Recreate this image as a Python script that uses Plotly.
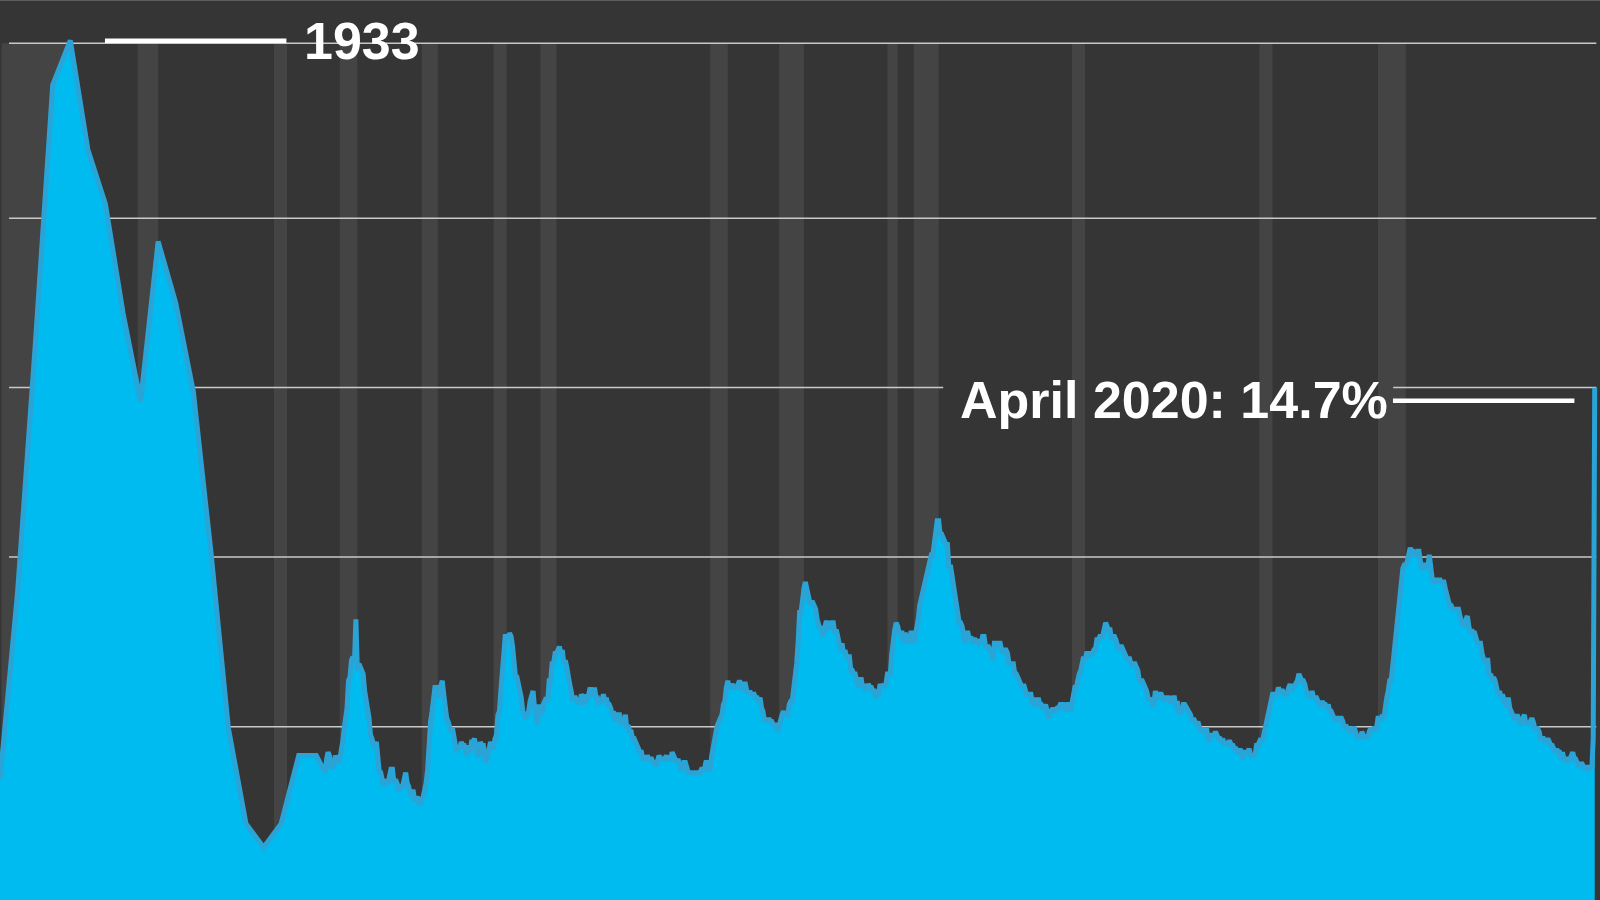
#!/usr/bin/env python3

import pandas as pd
import plotly.graph_objects as go

# annual rates before monthly data starts (plotted at mid-year)
annual_years = list(range(1929, 1948))
annual_rate = [3.2, 8.7, 15.9, 23.6, 24.9, 21.7, 20.1, 16.9, 14.3, 19.0,
               17.2, 14.6, 9.9, 4.7, 1.9, 1.2, 1.9, 3.9, 3.9]

# monthly rates, Jan 1948 onward
monthly_1940s = [
    3.4, 3.8, 4.0, 3.9, 3.5, 3.6, 3.6, 3.9, 3.8, 3.7, 3.8, 4.0,
    4.3, 4.7, 5.0, 5.3, 6.1, 6.2, 6.7, 6.8, 6.6, 7.9, 6.4, 6.6,
]
monthly_1950s = [
    6.5, 6.4, 6.3, 5.8, 5.5, 5.4, 5.0, 4.5, 4.4, 4.2, 4.2, 4.3,
    3.7, 3.4, 3.4, 3.1, 3.0, 3.2, 3.1, 3.1, 3.3, 3.5, 3.5, 3.1,
    3.2, 3.1, 2.9, 2.9, 3.0, 3.0, 3.2, 3.4, 3.1, 3.0, 2.8, 2.7,
    2.9, 2.6, 2.6, 2.7, 2.5, 2.5, 2.6, 2.7, 2.9, 3.1, 3.5, 4.5,
    4.9, 5.2, 5.7, 5.9, 5.9, 5.6, 5.8, 6.0, 6.1, 5.7, 5.3, 5.0,
    4.9, 4.7, 4.6, 4.7, 4.3, 4.2, 4.0, 4.2, 4.1, 4.3, 4.2, 4.2,
    4.0, 3.9, 4.2, 4.0, 4.3, 4.3, 4.4, 4.1, 3.9, 3.9, 4.3, 4.2,
    4.2, 3.9, 3.7, 3.9, 4.1, 4.3, 4.2, 4.1, 4.4, 4.5, 5.1, 5.2,
    5.8, 6.4, 6.7, 7.4, 7.4, 7.3, 7.5, 7.4, 7.1, 6.7, 6.2, 6.2,
    6.0, 5.9, 5.6, 5.2, 5.1, 5.0, 5.1, 5.2, 5.5, 5.7, 5.8, 5.3,
]
monthly_1960s = [
    5.2, 4.8, 5.4, 5.2, 5.1, 5.4, 5.5, 5.6, 5.5, 6.1, 6.1, 6.6,
    6.6, 6.9, 6.9, 7.0, 7.1, 6.9, 7.0, 6.6, 6.7, 6.5, 6.1, 6.0,
    5.8, 5.5, 5.6, 5.6, 5.5, 5.5, 5.4, 5.7, 5.6, 5.4, 5.7, 5.5,
    5.7, 5.9, 5.7, 5.7, 5.9, 5.6, 5.6, 5.4, 5.5, 5.5, 5.7, 5.5,
    5.6, 5.4, 5.4, 5.3, 5.1, 5.2, 4.9, 5.0, 5.1, 5.1, 4.8, 5.0,
    4.9, 5.1, 4.7, 4.8, 4.6, 4.6, 4.4, 4.4, 4.3, 4.2, 4.1, 4.0,
    4.0, 3.8, 3.8, 3.8, 3.9, 3.8, 3.8, 3.8, 3.7, 3.7, 3.6, 3.8,
    3.9, 3.8, 3.8, 3.8, 3.8, 3.9, 3.8, 3.8, 3.8, 4.0, 3.9, 3.8,
    3.7, 3.8, 3.7, 3.5, 3.5, 3.7, 3.7, 3.5, 3.4, 3.4, 3.4, 3.4,
    3.4, 3.4, 3.4, 3.4, 3.4, 3.5, 3.5, 3.5, 3.7, 3.7, 3.5, 3.5,
]
monthly_1970s = [
    3.9, 4.2, 4.4, 4.6, 4.8, 4.9, 5.0, 5.1, 5.4, 5.5, 5.9, 6.1,
    5.9, 5.9, 6.0, 5.9, 5.9, 5.9, 6.0, 6.1, 6.0, 5.8, 6.0, 6.0,
    5.8, 5.7, 5.8, 5.7, 5.7, 5.7, 5.6, 5.6, 5.5, 5.6, 5.3, 5.2,
    4.9, 5.0, 4.9, 5.0, 4.9, 4.9, 4.8, 4.8, 4.8, 4.6, 4.8, 4.9,
    5.1, 5.2, 5.1, 5.1, 5.1, 5.4, 5.5, 5.5, 5.9, 6.0, 6.6, 7.2,
    8.1, 8.1, 8.6, 8.8, 9.0, 8.8, 8.6, 8.4, 8.4, 8.4, 8.3, 8.2,
    7.9, 7.7, 7.6, 7.7, 7.4, 7.6, 7.8, 7.8, 7.6, 7.7, 7.8, 7.8,
    7.5, 7.6, 7.4, 7.2, 7.0, 7.2, 6.9, 7.0, 6.8, 6.8, 6.8, 6.4,
    6.4, 6.3, 6.3, 6.1, 6.0, 5.9, 6.2, 5.9, 6.0, 5.8, 5.9, 6.0,
    5.9, 5.9, 5.8, 5.8, 5.6, 5.7, 5.7, 6.0, 5.9, 6.0, 5.9, 6.0,
]
monthly_1980s = [
    6.3, 6.3, 6.3, 6.9, 7.5, 7.6, 7.8, 7.7, 7.5, 7.5, 7.5, 7.2,
    7.5, 7.4, 7.4, 7.2, 7.5, 7.5, 7.2, 7.4, 7.6, 7.9, 8.3, 8.5,
    8.6, 8.9, 9.0, 9.3, 9.4, 9.6, 9.8, 9.8, 10.1, 10.4, 10.8, 10.8,
    10.4, 10.4, 10.3, 10.2, 10.1, 10.1, 9.4, 9.5, 9.2, 8.8, 8.5, 8.3,
    8.0, 7.8, 7.8, 7.7, 7.4, 7.2, 7.5, 7.5, 7.3, 7.4, 7.2, 7.3,
    7.3, 7.2, 7.2, 7.3, 7.2, 7.4, 7.4, 7.1, 7.1, 7.1, 7.0, 7.0,
    6.7, 7.2, 7.2, 7.1, 7.2, 7.2, 7.0, 6.9, 7.0, 7.0, 6.9, 6.6,
    6.6, 6.6, 6.6, 6.3, 6.3, 6.2, 6.1, 6.0, 5.9, 6.0, 5.8, 5.7,
    5.7, 5.7, 5.7, 5.4, 5.6, 5.4, 5.4, 5.6, 5.4, 5.4, 5.3, 5.3,
    5.4, 5.2, 5.0, 5.2, 5.2, 5.3, 5.2, 5.2, 5.3, 5.3, 5.4, 5.4,
]
monthly_1990s = [
    5.4, 5.3, 5.2, 5.4, 5.4, 5.2, 5.5, 5.7, 5.9, 5.9, 6.2, 6.3,
    6.4, 6.6, 6.8, 6.7, 6.9, 6.9, 6.8, 6.9, 6.9, 7.0, 7.0, 7.3,
    7.3, 7.4, 7.4, 7.4, 7.6, 7.8, 7.7, 7.6, 7.6, 7.3, 7.4, 7.4,
    7.3, 7.1, 7.0, 7.1, 7.1, 7.0, 6.9, 6.8, 6.7, 6.8, 6.6, 6.5,
    6.6, 6.6, 6.5, 6.4, 6.1, 6.1, 6.1, 6.0, 5.9, 5.8, 5.6, 5.5,
    5.6, 5.4, 5.4, 5.8, 5.6, 5.6, 5.7, 5.7, 5.6, 5.5, 5.6, 5.6,
    5.6, 5.5, 5.5, 5.6, 5.6, 5.3, 5.5, 5.1, 5.2, 5.2, 5.4, 5.4,
    5.3, 5.2, 5.2, 5.1, 4.9, 5.0, 4.9, 4.8, 4.9, 4.7, 4.6, 4.7,
    4.6, 4.6, 4.7, 4.3, 4.4, 4.5, 4.5, 4.5, 4.6, 4.5, 4.4, 4.4,
    4.3, 4.4, 4.2, 4.3, 4.2, 4.3, 4.3, 4.2, 4.2, 4.1, 4.1, 4.0,
]
monthly_2000s = [
    4.0, 4.1, 4.0, 3.8, 4.0, 4.0, 4.0, 4.1, 3.9, 3.9, 3.9, 3.9,
    4.2, 4.2, 4.3, 4.4, 4.3, 4.5, 4.6, 4.9, 5.0, 5.3, 5.5, 5.7,
    5.7, 5.7, 5.7, 5.9, 5.8, 5.8, 5.8, 5.7, 5.7, 5.7, 5.9, 6.0,
    5.8, 5.9, 5.9, 6.0, 6.1, 6.3, 6.2, 6.1, 6.1, 6.0, 5.8, 5.7,
    5.7, 5.6, 5.8, 5.6, 5.6, 5.6, 5.5, 5.4, 5.4, 5.5, 5.4, 5.4,
    5.3, 5.4, 5.2, 5.2, 5.1, 5.0, 5.0, 4.9, 5.0, 5.0, 5.0, 4.9,
    4.7, 4.8, 4.7, 4.7, 4.6, 4.6, 4.7, 4.7, 4.5, 4.4, 4.5, 4.4,
    4.6, 4.5, 4.4, 4.5, 4.4, 4.6, 4.7, 4.6, 4.7, 4.7, 4.7, 5.0,
    5.0, 4.9, 5.1, 5.0, 5.4, 5.6, 5.8, 6.1, 6.1, 6.5, 6.8, 7.3,
    7.8, 8.3, 8.7, 9.0, 9.4, 9.5, 9.5, 9.6, 9.8, 10.0, 9.9, 9.9,
]
monthly_2010s = [
    9.8, 9.8, 9.9, 9.9, 9.6, 9.4, 9.4, 9.5, 9.5, 9.4, 9.8, 9.3,
    9.1, 9.0, 9.0, 9.1, 9.0, 9.1, 9.0, 9.0, 9.0, 8.8, 8.6, 8.5,
    8.3, 8.3, 8.2, 8.2, 8.2, 8.2, 8.2, 8.0, 7.8, 7.8, 7.7, 7.9,
    8.0, 7.7, 7.5, 7.6, 7.5, 7.5, 7.3, 7.2, 7.2, 7.2, 6.9, 6.7,
    6.6, 6.7, 6.7, 6.2, 6.3, 6.1, 6.2, 6.1, 5.9, 5.7, 5.8, 5.6,
    5.7, 5.5, 5.4, 5.4, 5.6, 5.3, 5.2, 5.1, 5.0, 5.0, 5.1, 5.0,
    4.8, 4.9, 5.0, 5.1, 4.8, 4.9, 4.8, 4.9, 5.0, 4.9, 4.7, 4.7,
    4.7, 4.6, 4.4, 4.4, 4.4, 4.3, 4.3, 4.4, 4.3, 4.2, 4.2, 4.1,
    4.0, 4.1, 4.0, 4.0, 3.8, 4.0, 3.8, 3.8, 3.7, 3.8, 3.8, 3.9,
    4.0, 3.8, 3.8, 3.7, 3.6, 3.6, 3.7, 3.6, 3.5, 3.6, 3.5, 3.5,
]
monthly_2020s = [3.6, 3.5, 4.4, 14.7]

# NBER recessions (peak month, month after trough)
recessions = [
    ("1929-08-01", "1933-04-01"), ("1937-05-01", "1938-07-01"),
    ("1945-02-01", "1945-11-01"), ("1948-11-01", "1949-11-01"),
    ("1953-07-01", "1954-06-01"), ("1957-08-01", "1958-05-01"),
    ("1960-04-01", "1961-03-01"), ("1969-12-01", "1970-12-01"),
    ("1973-11-01", "1975-04-01"), ("1980-01-01", "1980-08-01"),
    ("1981-07-01", "1982-12-01"), ("1990-07-01", "1991-04-01"),
    ("2001-03-01", "2001-12-01"), ("2007-12-01", "2009-07-01"),
]

BG = "#363536"
BAND = "#444444"
GRID = "#c9c9c9"
FILL = "#00bbf0"
EDGE = "#2aa4d6"

X_RANGE = ["1929-07-01", "2020-07-20"]
Y_MIN, Y_MAX = -0.34, 26.09
grid_levels = [4.75, 9.73, 14.71, 19.68, 24.82]
# gridlines stop a little short of both edges; the 14.7 one breaks for the label
grid_span = ("1930-01-05", "2020-05-05")
grid_gap = ("1983-03-05", "2008-10-12")

monthly = (monthly_1940s + monthly_1950s + monthly_1960s + monthly_1970s
           + monthly_1980s + monthly_1990s + monthly_2000s + monthly_2010s
           + monthly_2020s)
monthly_dates = pd.date_range("1948-01-01", periods=len(monthly), freq="MS")
annual_dates = pd.to_datetime([f"{y}-07-01" for y in annual_years])

df = pd.DataFrame({
    "date": list(annual_dates) + list(monthly_dates),
    "rate": annual_rate + monthly,
})

fig = go.Figure()
# baseline so the fill runs to the bottom edge
fig.add_trace(go.Scatter(
    x=df["date"], y=[Y_MIN] * len(df), mode="lines",
    line=dict(width=0), hoverinfo="skip", showlegend=False,
))
fig.add_trace(go.Scatter(
    x=df["date"], y=df["rate"], mode="lines",
    fill="tonexty", fillcolor=FILL,
    line=dict(color=EDGE, width=5),
    showlegend=False,
    hovertemplate="%{x|%b %Y}: %{y:.1f}%<extra></extra>",
))

for start, end in recessions:
    fig.add_shape(type="rect", xref="x", yref="y", x0=start, x1=end,
                  y0=Y_MIN, y1=grid_levels[-1], fillcolor=BAND,
                  line=dict(width=0), layer="below")

for lvl in grid_levels:
    if lvl == 14.71:
        spans = [(grid_span[0], grid_gap[0]), (grid_gap[1], grid_span[1])]
    else:
        spans = [grid_span]
    for x0, x1 in spans:
        fig.add_shape(type="line", xref="x", yref="y", x0=x0, x1=x1,
                      y0=lvl, y1=lvl, line=dict(color=GRID, width=1.5),
                      layer="below")

# leader lines for the labels
fig.add_shape(type="line", xref="paper", yref="paper", x0=0.0656, x1=0.179,
              y0=1 - 40.7 / 900, y1=1 - 40.7 / 900,
              line=dict(color="white", width=4.5))
fig.add_shape(type="line", xref="paper", yref="paper", x0=0.8706, x1=0.984,
              y0=1 - 400.7 / 900, y1=1 - 400.7 / 900,
              line=dict(color="white", width=4.5))
# thin border on top
fig.add_shape(type="line", xref="paper", yref="paper", x0=0, x1=1,
              y0=1, y1=1, line=dict(color="#5c5c5c", width=2))

label_font = dict(family="Liberation Sans, Arial, sans-serif", size=52,
                  color="white", weight="bold")
fig.add_annotation(text="1933", xref="paper", yref="paper",
                   x=0.1885, y=1 - 41.4 / 900, xanchor="left", yanchor="middle",
                   showarrow=False, font=label_font)
fig.add_annotation(text="April 2020: 14.7%", xref="paper", yref="paper",
                   x=0.5985, y=1 - 400.3 / 900, xanchor="left", yanchor="middle",
                   showarrow=False, font=label_font)

fig.update_layout(
    width=1600, height=900,
    margin=dict(l=0, r=0, t=0, b=0),
    paper_bgcolor=BG, plot_bgcolor=BG,
    xaxis=dict(range=X_RANGE, showgrid=False,
               zeroline=False, showticklabels=False, showline=False),
    yaxis=dict(range=[Y_MIN, Y_MAX], showgrid=False, zeroline=False,
               showticklabels=False, showline=False),
    showlegend=False,
)

fig.write_html("out.html", config={"displayModeBar": False},
               post_script="document.body.style.margin='0';document.body.style.overflow='hidden';")
